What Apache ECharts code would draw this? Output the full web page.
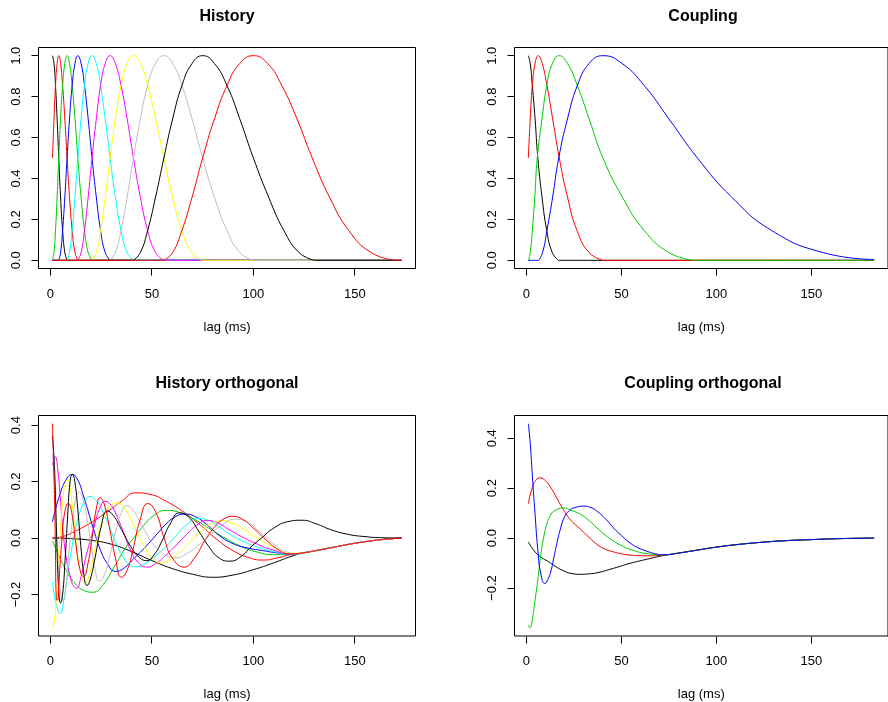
<!DOCTYPE html>
<html><head><meta charset="utf-8">
<script src="https://cdn.jsdelivr.net/npm/echarts@6/dist/echarts.min.js"></script>
<style>html,body{margin:0;padding:0;background:#fff}#c{width:888px;height:702px}</style>
</head><body><div id="c"></div>
<script>
const panelTitles = ['History', 'Coupling', 'History orthogonal', 'Coupling orthogonal'];
const xLabel = 'lag (ms)';
const xTicks = [0, 50, 100, 150];
const yTicksTop = [0, 0.2, 0.4, 0.6, 0.8, 1.0];
const yTicksBottom = [-0.2, 0, 0.2, 0.4];
const histColors = ['#000000', '#FF0000', '#00CD00', '#0000FF', '#00FFFF', '#FF00FF', '#FFFF00', '#BEBEBE', '#000000', '#FF0000'];
const coupColors = ['#000000', '#FF0000', '#00CD00', '#0000FF'];

const hist1 = [[1,1],[1.75,0.962],[2.5,0.854],[3.3,0.691],[4.1,0.5],[5.0,0.309],[6.0,0.146],[7.1,0.038],[8.2,0],[173,0]];
const hist2 = [[1,0.5],[1.75,0.691],[2.5,0.854],[3.3,0.962],[4.1,1],[5.0,0.962],[6.0,0.854],[7.1,0.691],[8.2,0.5],[9.4,0.309],[10.7,0.146],[12.1,0.038],[13.5,0],[173,0]];
const hist3 = [[1,0],[1.75,0.038],[2.5,0.146],[3.3,0.309],[4.1,0.5],[5.0,0.691],[6.0,0.854],[7.1,0.962],[8.2,1],[9.4,0.962],[10.7,0.854],[12.1,0.691],[13.5,0.5],[15.1,0.309],[16.8,0.146],[18.6,0.038],[20.5,0],[173,0]];
const hist4 = [[1,0],[4.1,0],[5.0,0.038],[6.0,0.146],[7.1,0.309],[8.2,0.5],[9.4,0.691],[10.7,0.854],[12.1,0.962],[13.5,1],[15.1,0.962],[16.8,0.854],[18.6,0.691],[20.5,0.5],[22.6,0.309],[24.7,0.146],[27.0,0.038],[29.4,0],[173,0]];
const hist5 = [[1,0],[8.2,0],[9.4,0.038],[10.7,0.146],[12.1,0.309],[13.5,0.5],[15.1,0.691],[16.8,0.854],[18.6,0.962],[20.5,1],[22.6,0.962],[24.7,0.854],[27.0,0.691],[29.4,0.5],[32.0,0.309],[34.8,0.146],[37.8,0.038],[40.9,0],[173,0]];
const hist6 = [[1,0],[13.5,0],[15.1,0.038],[16.8,0.146],[18.6,0.309],[20.5,0.5],[22.6,0.691],[24.7,0.854],[27.0,0.962],[29.4,1],[32.0,0.962],[34.8,0.854],[37.8,0.691],[40.9,0.5],[44.3,0.309],[47.9,0.146],[51.8,0.038],[55.9,0],[173,0]];
const hist7 = [[1,0],[20.5,0],[22.6,0.038],[24.7,0.146],[27.0,0.309],[29.4,0.5],[32.0,0.691],[34.8,0.854],[37.8,0.962],[40.9,1],[44.3,0.962],[47.9,0.854],[51.8,0.691],[55.9,0.5],[60.2,0.309],[64.8,0.146],[69.8,0.038],[75,0],[173,0]];
const hist8 = [[1,0],[29.4,0],[32.0,0.038],[34.8,0.146],[37.8,0.309],[40.9,0.5],[44.3,0.691],[47.9,0.854],[51.8,0.962],[55.9,1],[60.2,0.962],[64.8,0.854],[69.8,0.691],[75,0.5],[80.8,0.309],[87,0.146],[93.3,0.038],[100,0],[173,0]];
const hist9 = [[1,0],[40.9,0],[44.3,0.038],[47.9,0.146],[51.8,0.309],[55.9,0.5],[60.2,0.691],[64.8,0.854],[69.8,0.962],[75,1],[80.8,0.962],[87,0.854],[93.3,0.691],[100,0.5],[107.5,0.309],[115,0.146],[122.5,0.038],[130,0],[173,0]];
const hist10 = [[1,0],[55.9,0],[60.2,0.038],[64.8,0.146],[69.8,0.309],[75,0.5],[80.8,0.691],[87,0.854],[93.3,0.962],[100,1],[107,0.962],[114,0.854],[121.5,0.691],[129,0.5],[137.5,0.309],[147,0.146],[158,0.038],[170,0],[173,0]];

const coup1 = [[1,1],[2.0,0.962],[3.1,0.854],[4.55,0.691],[6.0,0.5],[8.2,0.309],[10.7,0.146],[13.6,0.038],[16.8,0],[183,0]];
const coup2 = [[1,0.5],[2.0,0.691],[3.1,0.854],[4.55,0.962],[6.2,1],[8.3,0.962],[10.8,0.854],[13.8,0.691],[17.3,0.5],[21.6,0.309],[26.6,0.146],[33,0.038],[40.3,0],[183,0]];
const coup3 = [[1,0],[2.0,0.038],[3.1,0.146],[4.4,0.309],[5.7,0.5],[8.2,0.691],[10.7,0.854],[13.7,0.962],[17.2,1],[21.6,0.962],[26.8,0.854],[33,0.691],[40.3,0.5],[50.5,0.309],[62,0.146],[75,0.038],[88,0],[183,0]];
const coup4 = [[1,0],[6.5,0],[8.5,0.038],[10.8,0.146],[13.8,0.309],[17,0.5],[21.6,0.691],[26.8,0.854],[33,0.962],[40.3,1],[50.3,0.962],[62,0.854],[75,0.691],[90,0.5],[108,0.309],[129,0.146],[156,0.038],[183,0.004]];

const hoTail = [[125,-0.052],[132,-0.043],[140,-0.032],[148,-0.021],[156,-0.012],[164,-0.005],[173,0]];
const ho1 = [[1,0],[10,-0.002],[20,-0.008],[30,-0.022],[40,-0.048],[50,-0.08],[60,-0.108],[70,-0.128],[80,-0.139],[90,-0.131],[100,-0.112],[110,-0.088],[119,-0.064]];
const ho2 = [[1,0],[6,0.005],[11,0.02],[17,0.042],[23,0.068],[29,0.098],[35,0.13],[42,0.16],[49,0.155],[57,0.13],[66,0.09],[74,0.045],[82,-0.005],[90,-0.045],[98,-0.07],[105,-0.078],[112,-0.07],[119,-0.058]];
const ho3 = [[1,-0.01],[4,-0.06],[8,-0.118],[12,-0.16],[16,-0.184],[21,-0.192],[26,-0.165],[32,-0.095],[37,-0.035],[41,0.0],[46,0.045],[51,0.08],[57,0.098],[63,0.092],[70,0.07],[78,0.035],[86,0.0],[94,-0.03],[102,-0.05],[110,-0.059],[118,-0.058]];
const ho4 = [[1,0.058],[4.6,0.153],[8,0.21],[10.7,0.225],[13.5,0.205],[16.1,0.153],[19,0.085],[21.5,0.025],[24.5,-0.04],[28,-0.09],[32,-0.118],[36,-0.108],[41.5,-0.07],[47,-0.03],[52,0.01],[57,0.05],[61,0.073],[66,0.085],[71,0.077],[77,0.048],[83,0.01],[90,-0.02],[97,-0.035],[105,-0.045],[112,-0.053],[118,-0.057]];
const ho5 = [[1,-0.155],[3,-0.24],[4.9,-0.267],[6.5,-0.225],[8,-0.153],[9.5,-0.08],[11.1,-0.012],[13,0.055],[15.3,0.106],[17.5,0.138],[19.5,0.147],[22,0.137],[24.3,0.115],[27,0.075],[30,0.023],[33,-0.03],[36,-0.07],[39,-0.095],[42,-0.102],[45,-0.097],[49,-0.08],[54,-0.05],[59,-0.015],[64,0.025],[68,0.052],[72.5,0.07],[77,0.065],[82,0.045],[88,0.015],[95,-0.012],[102,-0.032],[110,-0.048],[118,-0.057]];
const ho6 = [[1,0.258],[2.4,0.288],[3.5,0.25],[5,0.13],[6.2,0.023],[8,-0.08],[9.5,-0.129],[11,-0.165],[12.8,-0.178],[15,-0.14],[17.7,-0.059],[20,0.0],[21.8,0.047],[24,0.1],[27,0.13],[30,0.115],[32.5,0.082],[36,0.02],[39,-0.035],[43,-0.085],[47.5,-0.103],[52,-0.09],[57,-0.06],[62,-0.025],[67,0.012],[72,0.045],[77,0.062],[82,0.055],[88,0.03],[95,0.002],[102,-0.022],[110,-0.043],[118,-0.056]];
const ho7 = [[1,-0.318],[2,-0.29],[3,-0.2],[3.8,-0.094],[5,0.04],[6.2,0.14],[7.3,0.195],[8.5,0.207],[9.7,0.18],[11,0.1],[12.5,0.0],[14,-0.09],[15.5,-0.14],[17,-0.158],[18.5,-0.145],[20.5,-0.09],[23,-0.005],[26,0.07],[29.5,0.113],[33,0.124],[36,0.11],[39,0.075],[43,0.015],[47,-0.04],[50.5,-0.073],[54,-0.088],[58,-0.08],[63,-0.055],[68,-0.02],[73,0.015],[78,0.045],[84,0.061],[90,0.052],[96,0.028],[102,0.0],[110,-0.033],[118,-0.054]];
const ho8 = [[1,0.3],[2,0.2],[3.5,-0.05],[5,-0.19],[6.2,-0.222],[7.5,-0.18],[9,-0.06],[11,0.07],[12.5,0.14],[14.1,0.163],[16,0.14],[18,0.07],[20,-0.02],[22,-0.11],[24,-0.152],[26,-0.14],[29,-0.07],[32,0.02],[35,0.09],[37.5,0.115],[40,0.105],[44,0.06],[49,-0.005],[54,-0.048],[58,-0.065],[62,-0.07],[67,-0.056],[73,-0.025],[79,0.012],[85,0.048],[91,0.067],[97,0.056],[103,0.022],[110,-0.022],[116,-0.048],[122,-0.056]];
const ho9 = [[1,0.362],[2,0.25],[3,0.02],[4,-0.17],[5,-0.23],[6,-0.2],[7.2,-0.08],[8.5,0.08],[9.7,0.2],[10.8,0.226],[12,0.2],[13.5,0.1],[15,-0.03],[16.5,-0.13],[18,-0.168],[19.5,-0.15],[22,-0.07],[25,0.04],[28,0.096],[31,0.08],[35,0.03],[40,-0.035],[44,-0.07],[47.5,-0.08],[51,-0.06],[55,-0.01],[59,0.05],[63.5,0.089],[68,0.075],[73,0.025],[78,-0.03],[83,-0.07],[88.5,-0.082],[94,-0.065],[99,-0.03],[104,0.0],[110,0.035],[117,0.058],[124,0.063],[131,0.05],[138,0.03],[146,0.014],[155,0.005],[164,0.001],[173,0]];
const ho10 = [[1,0.405],[1.8,0.2],[2.4,0.0],[2.9,-0.218],[3.5,-0.22],[4.2,-0.15],[5.5,-0.02],[7,0.09],[8.8,0.123],[10.5,0.09],[12.5,-0.02],[14.5,-0.11],[16.3,-0.137],[18.5,-0.09],[20.5,0.0],[22.5,0.1],[24.5,0.143],[26.5,0.12],[29,0.04],[32,-0.07],[35,-0.139],[38,-0.11],[41,-0.03],[44,0.06],[48,0.122],[52,0.09],[56,0.0],[60,-0.07],[66,-0.103],[71,-0.07],[76,-0.01],[81,0.04],[86,0.07],[90,0.077],[95,0.065],[100,0.035],[106,-0.005],[112,-0.04],[118,-0.056]];

const coTail = [[80,-0.06],[90,-0.048],[100,-0.036],[112,-0.025],[125,-0.016],[137,-0.01],[150,-0.006],[165,-0.002],[183,0]];
const co1 = [[1,-0.015],[4.2,-0.052],[8,-0.078],[11.1,-0.092],[15,-0.112],[19.8,-0.132],[24,-0.142],[28.5,-0.145],[33,-0.143],[37.1,-0.139],[45.8,-0.121],[54.5,-0.101],[63.2,-0.085],[71.9,-0.07]];
const co2 = [[1,0.137],[3,0.2],[5,0.232],[7.3,0.241],[10,0.23],[13,0.2],[16,0.16],[18.9,0.121],[23,0.075],[28.5,0.035],[33,0.003],[37.1,-0.025],[41,-0.043],[45.8,-0.055],[50,-0.063],[54.5,-0.068],[63,-0.071],[71.9,-0.068]];
const co3 = [[1,-0.348],[1.9,-0.359],[3,-0.33],[4.5,-0.25],[5.9,-0.172],[7.5,-0.07],[9,0.0],[10.5,0.05],[12.5,0.09],[15,0.11],[19.3,0.121],[24,0.11],[28.5,0.095],[33,0.07],[37.1,0.041],[41.5,0.012],[45.8,-0.012],[50,-0.03],[54.5,-0.045],[63.2,-0.062],[71.9,-0.067]];
const co4 = [[1,0.458],[2,0.38],[3.3,0.228],[4.6,0.09],[5.9,-0.039],[7.5,-0.14],[9.7,-0.182],[11.3,-0.165],[12.9,-0.132],[14.5,-0.075],[16.3,-0.012],[18,0.04],[19.8,0.081],[22.5,0.11],[25,0.121],[30.2,0.128],[34,0.122],[37.1,0.108],[41.5,0.078],[45.8,0.041],[50,0.01],[54.5,-0.019],[58.5,-0.038],[63.2,-0.052],[67.5,-0.062],[71.9,-0.067]];

const histCurves = [hist1, hist2, hist3, hist4, hist5, hist6, hist7, hist8, hist9, hist10];
const coupCurves = [coup1, coup2, coup3, coup4];
const hoCurves = [ho1.concat(hoTail), ho2.concat(hoTail), ho3.concat(hoTail), ho4.concat(hoTail), ho5.concat(hoTail),
                  ho6.concat(hoTail), ho7.concat(hoTail), ho8.concat(hoTail), ho9, ho10.concat(hoTail)];
const coCurves = [co1.concat(coTail), co2.concat(coTail), co3.concat(coTail), co4.concat(coTail)];

const FONT = '"Liberation Sans", Arial, Helvetica, sans-serif';
function splitFlat(pts) {
  const out = [];
  for (let i = 0; i < pts.length; i++) {
    const p = pts[i], q = pts[i + 1];
    out.push(p);
    if (q && p[1] === 0 && q[1] === 0) out.push([p[0], '-'], p, q, [q[0], '-']);
  }
  return out;
}
const fmtY = v => (v < 0 ? '\u2212' : '') + Math.abs(v).toFixed(1);

const grids = [
  {left: 38.5, top: 47.5, width: 377, height: 221},
  {left: 514.5, top: 47.5, width: 377, height: 221},
  {left: 38.5, top: 415.5, width: 377, height: 221},
  {left: 514.5, top: 415.5, width: 377, height: 221}
];
const xRanges = [[-5.88, 179.88], [-6.28, 190.28], [-5.88, 179.88], [-6.28, 190.28]];
const yRanges = [[-0.04, 1.04], [-0.04, 1.04], [-0.347, 0.434], [-0.392, 0.491]];
const yTickSets = [yTicksTop, yTicksTop, yTicksBottom, yTicksBottom];
const TICK = 7;

const titleElems = panelTitles.map((t, i) => ({
  type: 'text', x: grids[i].left + grids[i].width / 2, y: i < 2 ? 16.5 : 383.5, silent: true,
  style: {text: t, fill: '#000', font: 'bold 16px ' + FONT, textAlign: 'center', textVerticalAlign: 'middle'}
}));

const option = {
  backgroundColor: '#ffffff',
  animation: false,
  grid: grids.map(g => Object.assign({show: true, borderColor: '#000', borderWidth: 1, backgroundColor: 'transparent', containLabel: false}, g)),
  xAxis: grids.map((g, i) => ({
    type: 'value', gridIndex: i, min: xRanges[i][0], max: xRanges[i][1], position: 'bottom',
    splitLine: {show: false}, axisLine: {show: false, onZero: false}, axisTick: {show: false},
    axisLabel: {customValues: xTicks, fontSize: 13, color: '#000', margin: 19, fontFamily: FONT},
    name: xLabel, nameLocation: 'middle', nameGap: 52,
    nameTextStyle: {fontSize: 13, color: '#000', fontFamily: FONT}
  })),
  yAxis: grids.map((g, i) => ({
    type: 'value', gridIndex: i, min: yRanges[i][0], max: yRanges[i][1], position: 'left',
    splitLine: {show: false}, axisLine: {show: false, onZero: false}, axisTick: {show: false},
    axisLabel: {customValues: yTickSets[i], fontSize: 13, color: '#000', margin: 16, rotate: 90, fontFamily: FONT, formatter: fmtY}
  })),
  graphic: {elements: titleElems},
  series: []
};

function addSeries(curves, colors, gi, split) {
  curves.forEach((c, k) => {
    option.series.push({
      type: 'line', xAxisIndex: gi, yAxisIndex: gi,
      data: split ? splitFlat(c) : c,
      smooth: 0.5, showSymbol: false, symbol: 'none', silent: true, connectNulls: false,
      lineStyle: {color: colors[k], width: 1}, itemStyle: {color: colors[k]},
      emphasis: {disabled: true}, z: 2 + k
    });
  });
}
addSeries(histCurves, histColors, 0, true);
addSeries(coupCurves, coupColors, 1, true);
addSeries(hoCurves, histColors, 2, false);
addSeries(coCurves, coupColors, 3, false);

const chart = echarts.init(document.getElementById('c'), null, {renderer: 'canvas', width: 888, height: 702});
chart.setOption(option);

// outward R-style tick marks, positioned through the axes' own scales
const crisp = v => Math.round(v - 0.5) + 0.5;
const tickElems = [];
grids.forEach((g, i) => {
  const bottom = g.top + g.height;
  xTicks.forEach(v => {
    const px = crisp(chart.convertToPixel({xAxisIndex: i}, v));
    tickElems.push({type: 'line', silent: true, z: 100, shape: {x1: px, y1: bottom, x2: px, y2: bottom + TICK}, style: {stroke: '#000', lineWidth: 1}});
  });
  yTickSets[i].forEach(v => {
    const py = crisp(chart.convertToPixel({yAxisIndex: i}, v));
    tickElems.push({type: 'line', silent: true, z: 100, shape: {x1: g.left - TICK, y1: py, x2: g.left, y2: py}, style: {stroke: '#000', lineWidth: 1}});
  });
});
chart.setOption({graphic: {elements: titleElems.concat(tickElems)}});
</script>
</body></html>
